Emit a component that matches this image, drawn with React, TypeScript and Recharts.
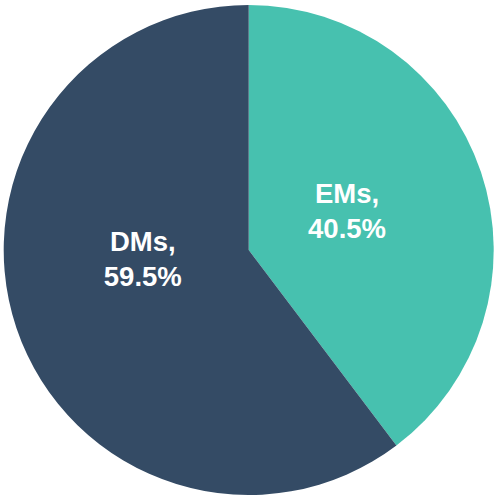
import React from 'react';
import { PieChart, Pie, Cell } from 'recharts';

const categories = ['EMs', 'DMs'];
// slice sizes as drawn in the picture
const sliceValues = [39.7, 60.3];
// percentages as printed on the slices
const shareLabels = ['40.5%', '59.5%'];

const COLORS = ['#47C1AF', '#344B65'];
// Label placement tweaks relative to the slice mid-angle point
const LABEL_NUDGE = [
  { dx: -1.5, dy: -5.5 },
  { dx: -6, dy: -24 },
];

const data = categories.map((name, i) => ({ name, value: sliceValues[i], label: shareLabels[i] }));

const RADIAN = Math.PI / 180;

const renderLabel = (props: any) => {
  const { cx, cy, midAngle, outerRadius, index, name } = props;
  const r = outerRadius * 0.43;
  const nudge = LABEL_NUDGE[index] || { dx: 0, dy: 0 };
  const x = cx + r * Math.cos(-midAngle * RADIAN) + nudge.dx;
  const y = cy + r * Math.sin(-midAngle * RADIAN) + nudge.dy;
  return (
    <text
      x={x}
      y={y}
      fill="#ffffff"
      textAnchor="middle"
      fontFamily="'Liberation Sans', Arial, sans-serif"
      fontWeight="bold"
      fontSize={27.5}
    >
      <tspan x={x} dy={-8}>{`${name},`}</tspan>
      <tspan x={x} dy={34.5}>{shareLabels[index]}</tspan>
    </text>
  );
};

export default function App() {
  return (
    <div style={{ position: 'absolute', left: 0, top: 0, width: 495, height: 495, background: '#ffffff' }}>
      <PieChart width={495} height={495} margin={{ top: 0, right: 0, bottom: 0, left: 0 }}>
        <Pie
          data={data}
          dataKey="value"
          nameKey="name"
          cx={248.7}
          cy={250}
          outerRadius={245}
          startAngle={90}
          endAngle={-270}
          stroke="none"
          labelLine={false}
          label={renderLabel}
          isAnimationActive={false}
        >
          {data.map((entry, index) => (
            <Cell key={`cell-${index}`} fill={COLORS[index % COLORS.length]} />
          ))}
        </Pie>
      </PieChart>
    </div>
  );
}
